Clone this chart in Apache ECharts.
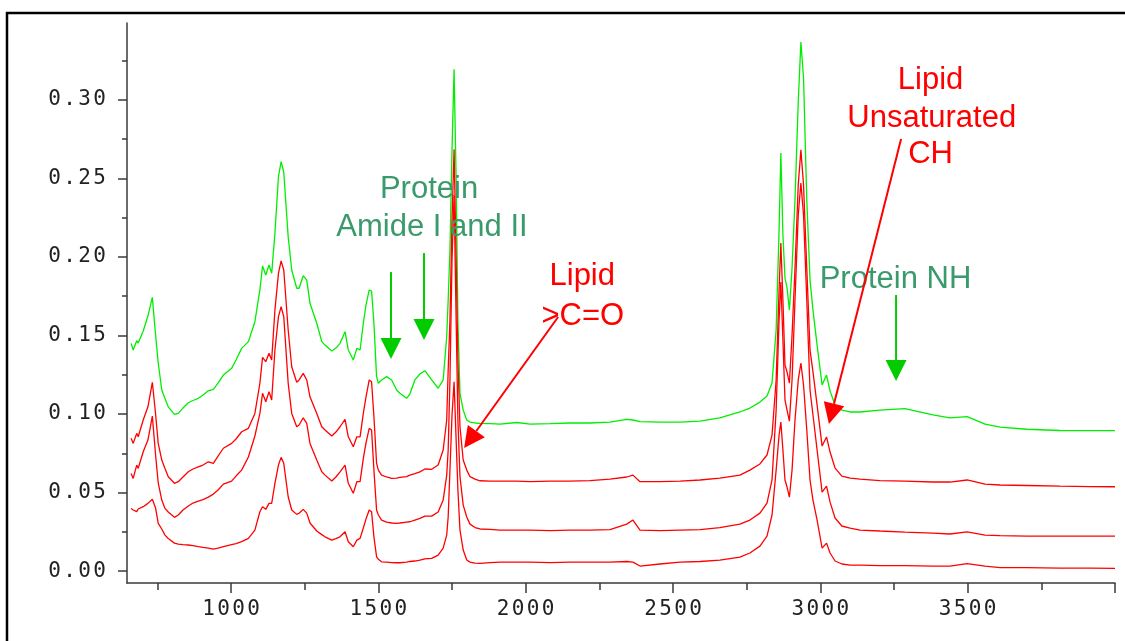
<!DOCTYPE html>
<html><head><meta charset="utf-8">
<script src="https://cdn.jsdelivr.net/npm/echarts@6/dist/echarts.min.js"></script>
<style>html,body{margin:0;padding:0;background:#fff}#c{width:1125px;height:641px}</style>
</head><body><div id="c"></div>
<script>
// wavenumber (cm-1)
const wavenumbers = [661,668,680,685,702,718,733,744,753,765,
 776,787,808,821,837,855,871,889,905,923,
 940,956,974,1002,1017,1036,1059,1081,1098,1107,
 1118,1129,1138,1149,1161,1170,1179,1194,1206,1223,
 1231,1245,1257,1268,1291,1308,1319,1342,1356,1370,
 1387,1398,1415,1427,1438,1449,1458,1469,1477,1485,
 1494,1500,1511,1528,1545,1562,1573,1596,1607,1624,
 1641,1658,1681,1703,1720,1732,1737,1743,1750,1757,
 1764,1770,1777,1788,1800,1811,1828,1845,1879,1913,
 1970,2015,2083,2150,2218,2286,2343,2364,2388,2456,
 2524,2592,2659,2727,2761,2795,2819,2836,2850,2860,
 2866,2873,2880,2887,2895,2904,2914,2925,2934,2943,
 2954,2965,2975,2989,3006,3021,3033,3050,3073,3101,
 3135,3202,3287,3382,3440,3498,3559,3610,3701,3813,
 3915,4000];

// green spectrum (protein-rich)
const spectrumGreen = [0.1450,0.1408,0.1467,0.1452,0.1529,0.1624,0.1743,0.1503,0.1325,0.1153,
 0.1099,0.1046,0.0998,0.1004,0.1038,0.1072,0.1086,0.1100,0.1121,0.1148,
 0.1157,0.1197,0.1248,0.1291,0.1344,0.1418,0.1461,0.1588,0.1790,0.1943,
 0.1885,0.1949,0.1896,0.2151,0.2511,0.2607,0.2541,0.2129,0.1917,0.1801,
 0.1801,0.1881,0.1853,0.1705,0.1578,0.1461,0.1439,0.1401,0.1420,0.1450,
 0.1524,0.1408,0.1344,0.1418,0.1408,0.1578,0.1694,0.1790,0.1783,0.1578,
 0.1238,0.1196,0.1217,0.1238,0.1217,0.1153,0.1132,0.1100,0.1127,0.1217,
 0.1255,0.1276,0.1217,0.1164,0.1217,0.1492,0.1726,0.2045,0.2682,0.3195,
 0.2490,0.1599,0.1132,0.1025,0.0962,0.0949,0.0943,0.0941,0.0939,0.0936,
 0.0946,0.0936,0.0939,0.0943,0.0943,0.0949,0.0966,0.0962,0.0951,0.0949,
 0.0949,0.0955,0.0975,0.1013,0.1038,0.1076,0.1115,0.1197,0.1535,0.2172,
 0.2662,0.2140,0.1866,0.1803,0.1662,0.1930,0.2363,0.2987,0.3369,0.3140,
 0.2363,0.1853,0.1662,0.1439,0.1185,0.1248,0.1146,0.1057,0.1025,0.1013,
 0.1013,0.1025,0.1035,0.0994,0.0975,0.0984,0.0936,0.0917,0.0903,0.0895,
 0.0894,0.0894];

// red spectra (lipid-rich), top to bottom
const spectrumRed1 = [0.0845,0.0813,0.0877,0.0855,0.0962,0.1046,0.1202,0.1000,0.0813,0.0707,
 0.0653,0.0601,0.0559,0.0569,0.0599,0.0632,0.0650,0.0664,0.0675,0.0696,
 0.0686,0.0732,0.0782,0.0813,0.0841,0.0887,0.0909,0.1004,0.1196,0.1361,
 0.1333,0.1387,0.1344,0.1662,0.1896,0.1975,0.1917,0.1535,0.1301,0.1202,
 0.1217,0.1259,0.1217,0.1110,0.1004,0.0919,0.0898,0.0860,0.0885,0.0919,
 0.0966,0.0855,0.0792,0.0855,0.0855,0.1004,0.1108,0.1217,0.1206,0.0983,
 0.0686,0.0643,0.0611,0.0599,0.0590,0.0592,0.0596,0.0601,0.0611,0.0621,
 0.0632,0.0650,0.0648,0.0675,0.0771,0.0962,0.1280,0.1599,0.2236,0.2686,
 0.1981,0.1344,0.0919,0.0707,0.0643,0.0601,0.0586,0.0575,0.0573,0.0573,
 0.0573,0.0570,0.0573,0.0573,0.0576,0.0586,0.0599,0.0611,0.0569,0.0570,
 0.0573,0.0580,0.0592,0.0611,0.0643,0.0682,0.0739,0.0866,0.1217,0.1790,
 0.2089,0.1726,0.1312,0.1268,0.1197,0.1503,0.1930,0.2459,0.2682,0.2459,
 0.1930,0.1408,0.1268,0.1057,0.0796,0.0854,0.0758,0.0656,0.0605,0.0592,
 0.0586,0.0576,0.0573,0.0567,0.0567,0.0580,0.0554,0.0548,0.0545,0.0541,
 0.0538,0.0537];

const spectrumRed2 = [0.0622,0.0590,0.0675,0.0654,0.0760,0.0834,0.0987,0.0739,0.0561,0.0452,
 0.0399,0.0376,0.0342,0.0357,0.0389,0.0414,0.0433,0.0446,0.0455,0.0471,
 0.0490,0.0516,0.0554,0.0573,0.0605,0.0643,0.0726,0.0860,0.1004,0.1132,
 0.1078,0.1142,0.1089,0.1408,0.1620,0.1683,0.1620,0.1196,0.1004,0.0919,
 0.0930,0.0976,0.0941,0.0813,0.0707,0.0632,0.0611,0.0573,0.0599,0.0632,
 0.0675,0.0559,0.0495,0.0569,0.0569,0.0718,0.0815,0.0909,0.0898,0.0643,
 0.0389,0.0357,0.0325,0.0312,0.0306,0.0304,0.0306,0.0312,0.0314,0.0325,
 0.0336,0.0350,0.0350,0.0376,0.0452,0.0611,0.0771,0.1217,0.1981,0.2395,
 0.1599,0.0962,0.0601,0.0420,0.0344,0.0299,0.0277,0.0268,0.0266,0.0261,
 0.0261,0.0261,0.0258,0.0261,0.0261,0.0264,0.0299,0.0325,0.0261,0.0258,
 0.0261,0.0264,0.0277,0.0299,0.0325,0.0369,0.0433,0.0580,0.1025,0.1599,
 0.1841,0.1471,0.1089,0.1025,0.0955,0.1217,0.1726,0.2268,0.2471,0.2268,
 0.1726,0.1153,0.0994,0.0771,0.0503,0.0541,0.0439,0.0338,0.0287,0.0274,
 0.0261,0.0255,0.0248,0.0242,0.0236,0.0250,0.0229,0.0226,0.0223,0.0223,
 0.0223,0.0223];

const spectrumRed3 = [0.0399,0.0389,0.0378,0.0395,0.0410,0.0431,0.0457,0.0401,0.0304,0.0268,
 0.0229,0.0207,0.0178,0.0172,0.0169,0.0166,0.0162,0.0156,0.0151,0.0146,
 0.0140,0.0146,0.0156,0.0169,0.0175,0.0187,0.0208,0.0261,0.0378,0.0410,
 0.0393,0.0431,0.0431,0.0559,0.0675,0.0724,0.0686,0.0473,0.0389,0.0361,
 0.0368,0.0393,0.0369,0.0306,0.0255,0.0232,0.0218,0.0197,0.0207,0.0218,
 0.0250,0.0187,0.0155,0.0197,0.0208,0.0274,0.0331,0.0389,0.0378,0.0218,
 0.0091,0.0076,0.0059,0.0057,0.0054,0.0053,0.0053,0.0057,0.0061,0.0064,
 0.0070,0.0078,0.0081,0.0102,0.0146,0.0229,0.0346,0.0643,0.0994,0.1206,
 0.0834,0.0516,0.0261,0.0134,0.0070,0.0057,0.0051,0.0049,0.0054,0.0057,
 0.0057,0.0057,0.0054,0.0057,0.0057,0.0057,0.0061,0.0057,0.0032,0.0045,
 0.0057,0.0061,0.0070,0.0089,0.0115,0.0159,0.0223,0.0357,0.0643,0.0866,
 0.0949,0.0771,0.0580,0.0535,0.0471,0.0643,0.0962,0.1217,0.1325,0.1185,
 0.0898,0.0580,0.0452,0.0325,0.0146,0.0178,0.0115,0.0064,0.0045,0.0038,
 0.0038,0.0035,0.0035,0.0032,0.0032,0.0048,0.0032,0.0022,0.0022,0.0019,
 0.0019,0.0017];

// tick values
const yMajorTicks = [0, 0.05, 0.10, 0.15, 0.20, 0.25, 0.30];
const yMinorTicks = [0.025, 0.075, 0.125, 0.175, 0.225, 0.275, 0.325];
const xMajorTicks = [1000, 1500, 2000, 2500, 3000, 3500, 4000];
const xLabelTicks = [1000, 1500, 2000, 2500, 3000, 3500];
const xMinorTicks = [750, 1250, 1750, 2250, 2750, 3250, 3750];

// annotations (in data coordinates)
const annotationTexts = [
  {text: 'Protein', x: 1672, y: 0.2427, color: '#3a9a6b'},
  {text: 'Amide I and II', x: 1682, y: 0.2185, color: '#3a9a6b'},
  {text: 'Lipid', x: 2192, y: 0.1873, color: '#ff0000'},
  {text: '>C=O', x: 2194, y: 0.1624, color: '#ff0000'},
  {text: 'Lipid', x: 3374, y: 0.3121, color: '#ff0000'},
  {text: 'Unsaturated', x: 3378, y: 0.2885, color: '#ff0000'},
  {text: 'CH', x: 3374, y: 0.2656, color: '#ff0000'},
  {text: 'Protein NH', x: 3255, y: 0.1860, color: '#3a9a6b'}
];
const annotationArrows = [
  {from: [1543, 0.1904], to: [1543, 0.1350], color: '#00cc00'},
  {from: [1655, 0.2025], to: [1655, 0.1471], color: '#00cc00'},
  {from: [3257, 0.1758], to: [3257, 0.1210], color: '#00cc00'},
  {from: [2110, 0.1618], to: [1791, 0.0783], color: '#ff0000'},
  {from: [3274, 0.2752], to: [3029, 0.0936], color: '#ff0000'}
];

const X_MIN = 647, X_MAX = 4000, Y_MIN = -0.0076, Y_MAX = 0.349;
const axisColor = '#3a3a3a';
const digitStyle = {width: 15, align: 'center', fontFamily: 'DejaVu Sans Mono', fontSize: 21, color: '#222'};
function spaced(s){ return s.split('').map(c => '{d|' + c + '}').join(''); }

const chart = echarts.init(document.getElementById('c'), null, {renderer: 'canvas'});
function pairs(arr){ return wavenumbers.map((w, i) => [w, arr[i]]); }
function lineSeries(arr, color, z){
  return {type: 'line', data: pairs(arr), showSymbol: false, symbol: 'none',
    lineStyle: {color: color, width: 1.3}, itemStyle: {color: color},
    xAxisIndex: 0, yAxisIndex: 0, z: z, animation: false, silent: true};
}

chart.setOption({
  animation: false,
  backgroundColor: '#fff',
  grid: {left: 127, right: 10, top: 23, bottom: 58, containLabel: false},
  xAxis: [
    {type: 'value', min: X_MIN, max: X_MAX, position: 'bottom', offset: 0,
     axisLine: {show: true, onZero: false, lineStyle: {color: axisColor, width: 1.5}},
     axisTick: {show: true, inside: false, length: 10, customValues: xMajorTicks, lineStyle: {color: axisColor, width: 1.5}},
     axisLabel: {show: true, customValues: xLabelTicks, margin: 16, fontFamily: 'DejaVu Sans Mono', fontSize: 21, color: '#222',
       formatter: v => spaced(String(v)), rich: {d: digitStyle}},
     splitLine: {show: false}},
    {type: 'value', min: X_MIN, max: X_MAX, position: 'bottom', offset: 0,
     axisLine: {show: false, onZero: false},
     axisTick: {show: true, inside: false, length: 7, customValues: xMinorTicks, lineStyle: {color: axisColor, width: 1.5}},
     axisLabel: {show: false}, splitLine: {show: false}}
  ],
  yAxis: [
    {type: 'value', min: Y_MIN, max: Y_MAX, position: 'left', offset: 0,
     axisLine: {show: true, onZero: false, lineStyle: {color: axisColor, width: 1.5}},
     axisTick: {show: true, inside: false, length: 9, customValues: yMajorTicks, lineStyle: {color: axisColor, width: 1.5}},
     axisLabel: {show: true, customValues: yMajorTicks, margin: 20, fontFamily: 'DejaVu Sans Mono', fontSize: 21, color: '#222',
       formatter: v => spaced(v.toFixed(2)), rich: {d: digitStyle}},
     splitLine: {show: false}},
    {type: 'value', min: Y_MIN, max: Y_MAX, position: 'left', offset: 0,
     axisLine: {show: false, onZero: false},
     axisTick: {show: true, inside: false, length: 5, customValues: yMinorTicks, lineStyle: {color: axisColor, width: 1.5}},
     axisLabel: {show: false}, splitLine: {show: false}}
  ],
  series: [
    lineSeries(spectrumGreen, '#00ee00', 2),
    lineSeries(spectrumRed1, '#ff0000', 3),
    lineSeries(spectrumRed2, '#ff0000', 3),
    lineSeries(spectrumRed3, '#ff0000', 3)
  ]
});

function px(pt){ return chart.convertToPixel({xAxisIndex: 0, yAxisIndex: 0}, pt); }
const graphics = [];
graphics.push({type: 'rect', shape: {x: 7, y: 13, width: 1300, height: 800},
  style: {fill: 'none', stroke: '#000', lineWidth: 2.5}, z: 100, silent: true});
annotationTexts.forEach(a => {
  const p = px([a.x, a.y]);
  graphics.push({type: 'text', x: p[0], y: p[1], z: 110, silent: true,
    style: {text: a.text, fill: a.color, font: '31px "Liberation Sans", Arial, sans-serif', align: 'center', verticalAlign: 'middle'}});
});
annotationArrows.forEach(a => {
  const s = px(a.from), t = px(a.to);
  const dx = t[0] - s[0], dy = t[1] - s[1];
  const len = Math.hypot(dx, dy), ux = dx / len, uy = dy / len;
  const headLen = 21, halfW = 10.5;
  const bx = t[0] - ux * headLen, by = t[1] - uy * headLen;
  graphics.push({type: 'line', z: 110, silent: true,
    shape: {x1: s[0], y1: s[1], x2: bx, y2: by},
    style: {stroke: a.color, lineWidth: 2}});
  graphics.push({type: 'polygon', z: 110, silent: true,
    shape: {points: [[t[0], t[1]], [bx - uy * halfW, by + ux * halfW], [bx + uy * halfW, by - ux * halfW]]},
    style: {fill: a.color}});
});
chart.setOption({graphic: graphics});
</script>
</body></html>
